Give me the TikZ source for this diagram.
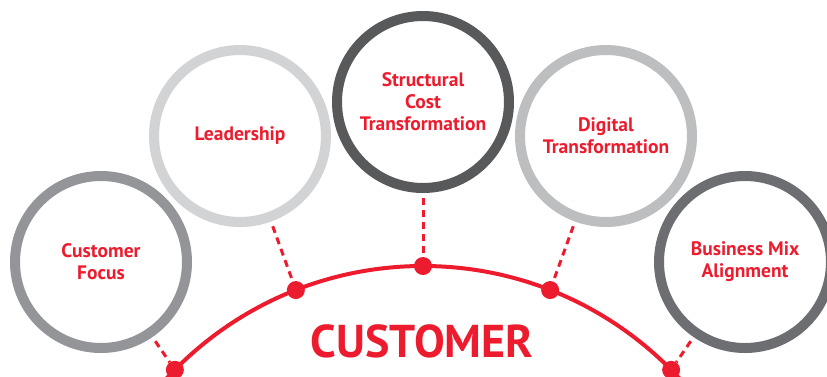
\documentclass[tikz,border=0pt]{standalone}
\usepackage{fontspec}
\setmainfont{PT Sans}
\usetikzlibrary{calc}
\definecolor{brandred}{HTML}{EC1C2E}
\definecolor{ringA}{HTML}{939598}
\definecolor{ringB}{HTML}{D1D3D4}
\definecolor{ringC}{HTML}{58595B}
\definecolor{ringD}{HTML}{BCBEC0}
\definecolor{ringE}{HTML}{6D6E71}
\tikzset{
  ring/.style={circle, line width=10pt, minimum size=172pt, inner sep=0pt,
    align=center, text=brandred, font=\bfseries\fontsize{19.5}{22}\selectfont},
  reddot/.style={circle, fill=brandred, minimum size=18pt, inner sep=0pt},
  conn/.style={brandred, line width=3pt, dash pattern=on 7pt off 5pt, shorten <=5pt},
  arcline/.style={brandred, line width=4pt}
}
\begin{document}
\begin{tikzpicture}[x=1pt,y=-1pt]
\useasboundingbox (0,0) rectangle (827,376);
\begin{scope}
\clip (0,0) rectangle (827,376);
\coordinate (ac) at (423,614.5);
\draw[arcline] (ac) circle (348.5pt);
\node[ring, draw=ringA] (cf) at (101,262) {Customer\\Focus};
\node[ring, draw=ringB] (ld) at (240,136) {Leadership};
\node[ring, draw=ringC] (sc) at (423,102) {Structural\\Cost\\Transformation};
\node[ring, draw=ringD] (dt) at (606,136) {Digital\\Transformation};
\node[ring, draw=ringE] (bm) at (745,262) {Business Mix\\Alignment};
\node[reddot] (d1) at ($(ac)+(-135.4:348.5)$) {};
\node[reddot] (d2) at ($(ac)+(-111.4:348.5)$) {};
\node[reddot] (d3) at ($(ac)+(-90:348.5)$) {};
\node[reddot] (d4) at ($(ac)+(-68.6:348.5)$) {};
\node[reddot] (d5) at ($(ac)+(-44.6:348.5)$) {};
\draw[conn] (cf) -- (d1);
\draw[conn] (ld) -- (d2);
\draw[conn] (sc) -- (d3);
\draw[conn] (dt) -- (d4);
\draw[conn] (bm) -- (d5);
\node[text=brandred, font=\bfseries\fontsize{46}{46}\selectfont, inner sep=0pt] (cust) at (422,341.5) {CUSTOMER};
\end{scope}
\end{tikzpicture}
\end{document}
